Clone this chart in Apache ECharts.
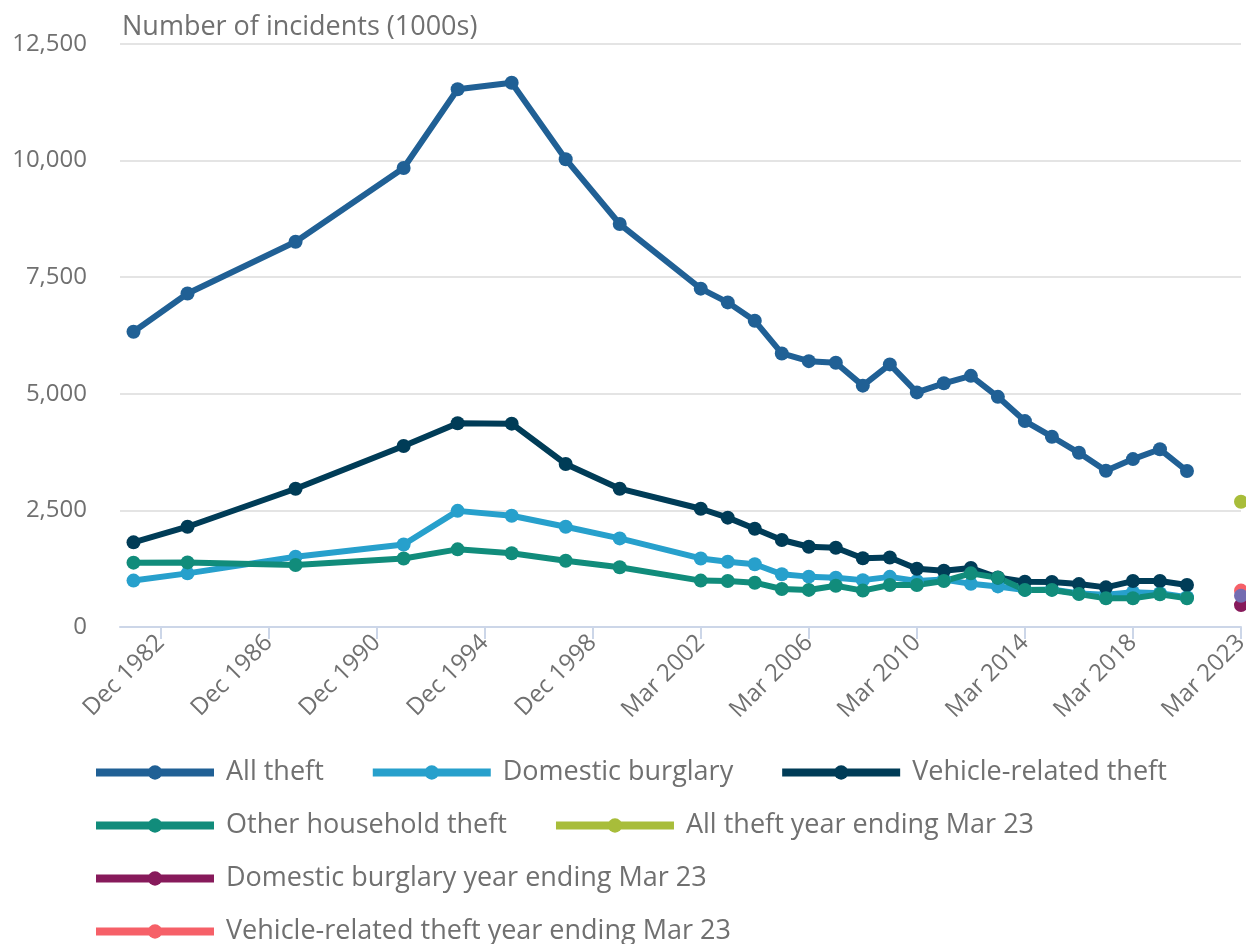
<!DOCTYPE html>
<html>
<head>
<meta charset="utf-8">
<script src="https://cdn.jsdelivr.net/npm/echarts@6/dist/echarts.min.js"></script>
<style>html,body{margin:0;padding:0;background:#fff;overflow:hidden;}#c{width:1246px;height:944px;}</style>
</head>
<body>
<div id="c"></div>
<script>
const categories = ['Dec 1981','Dec 1982','Dec 1983','Dec 1984','Dec 1985','Dec 1986','Dec 1987','Dec 1988','Dec 1989','Dec 1990',
  'Dec 1991','Dec 1992','Dec 1993','Dec 1994','Dec 1995','Dec 1996','Dec 1997','Dec 1998','Dec 1999','Dec 2000',
  'Mar 2001','Mar 2002','Mar 2003','Mar 2004','Mar 2005','Mar 2006','Mar 2007','Mar 2008','Mar 2009','Mar 2010',
  'Mar 2011','Mar 2012','Mar 2013','Mar 2014','Mar 2015','Mar 2016','Mar 2017','Mar 2018','Mar 2019','Mar 2020',
  'Mar 2022','Mar 2023'];
const tickLabels = ['Dec 1982','Dec 1986','Dec 1990','Dec 1994','Dec 1998','Mar 2002','Mar 2006','Mar 2010','Mar 2014','Mar 2018','Mar 2023'];
const yTicks = [0, 2500, 5000, 7500, 10000, 12500];

const allTheft = [6330,null,7150,null,null,null,8260,null,null,null,9840,null,11530,null,11670,null,10030,null,8640,null,
  null,7255,6960,6565,5865,5700,5665,5175,5630,5030,5225,5385,4935,4415,4080,3735,3350,3600,3810,3345,null,null];
const domesticBurglary = [995,null,1150,null,null,null,1505,null,null,null,1770,null,2490,null,2385,null,2150,null,1900,null,
  null,1470,1400,1345,1130,1080,1055,1005,1075,985,1020,925,870,795,805,720,690,745,725,640,null,null];
const vehicleTheft = [1815,null,2150,null,null,null,2965,null,null,null,3880,null,4370,null,4360,null,3495,null,2965,null,
  null,2535,2345,2105,1865,1720,1700,1475,1490,1250,1205,1265,1060,970,965,920,850,985,985,900,null,null];
const otherHousehold = [1380,null,1385,null,null,null,1330,null,null,null,1470,null,1665,null,1580,null,1420,null,1280,null,
  null,995,985,950,815,795,885,780,900,900,985,1150,1055,795,795,705,615,615,700,615,null,null];
const allTheft23 = [2685];
const domesticBurglary23 = [470];
const vehicleTheft23 = [780];
const otherHousehold23 = [670];
const lastIdx = categories.indexOf('Mar 2023');

const names = ['All theft','Domestic burglary','Vehicle-related theft','Other household theft',
  'All theft year ending Mar 23','Domestic burglary year ending Mar 23','Vehicle-related theft year ending Mar 23','Other household theft year ending Mar 23'];
const colors = ['#206095','#27a0cc','#003c57','#118c7b','#a8bd3a','#871a5b','#f66068','#746cb1'];

const pts = arr => arr.map((v,i)=>[i,v]).filter(p=>p[1]!==null);
const single = arr => [[lastIdx, arr[0]]];
const seriesData = [pts(allTheft), pts(domesticBurglary), pts(vehicleTheft), pts(otherHousehold),
  single(allTheft23), single(domesticBurglary23), single(vehicleTheft23), single(otherHousehold23)];

const tickVals = tickLabels.map(l => categories.indexOf(l));
const FONT = '"Open Sans", sans-serif';
const GREY = '#707070';

const chart = echarts.init(document.getElementById('c'), null, {renderer:'canvas', width:1246, height:944});
chart.setOption({
  animation:false,
  color: colors,
  textStyle:{fontFamily:FONT},
  title:{text:'Number of incidents (1000s)', left:117, top:9,
    textStyle:{fontFamily:FONT, fontSize:27, fontWeight:'normal', color:GREY}},
  grid:{left:120, right:5, top:44, bottom:317, containLabel:false, outerBoundsMode:'none'},
  xAxis:{type:'value', min:-0.5, max:41,
    axisLine:{show:true, lineStyle:{color:'#ccd6e8', width:2}},
    axisTick:{show:true, length:12, customValues:tickVals, lineStyle:{color:'#ccd6e8', width:2}},
    axisLabel:{customValues:tickVals, rotate:45, margin:12, fontSize:24, color:GREY, fontFamily:FONT,
      formatter: v => categories[Math.round(v)]},
    splitLine:{show:false}},
  yAxis:{type:'value', min:yTicks[0], max:yTicks[yTicks.length-1], interval:2500,
    axisLine:{show:false}, axisTick:{show:false},
    axisLabel:{fontSize:24, color:GREY, fontFamily:FONT, margin:33,
      formatter: v => v.toLocaleString('en-GB')},
    splitLine:{lineStyle:{color:'#e4e4e4', width:2}}},
  legend:{left:87, top:751, right:40, orient:'horizontal', itemWidth:118, itemHeight:18, itemGap:20,
    lineStyle:{width:8},
    textStyle:{fontSize:27, color:GREY, fontFamily:FONT, lineHeight:33, padding:[0,25,0,7]},
    data:names},
  series: names.map((n,i)=>({
    name:n, type:'line', data:seriesData[i],
    symbol:'circle', symbolSize:14, showSymbol:true,
    lineStyle:{width:6, color:colors[i]}, itemStyle:{color:colors[i]},
    emphasis:{disabled:true}
  }))
});
</script>
</body>
</html>
